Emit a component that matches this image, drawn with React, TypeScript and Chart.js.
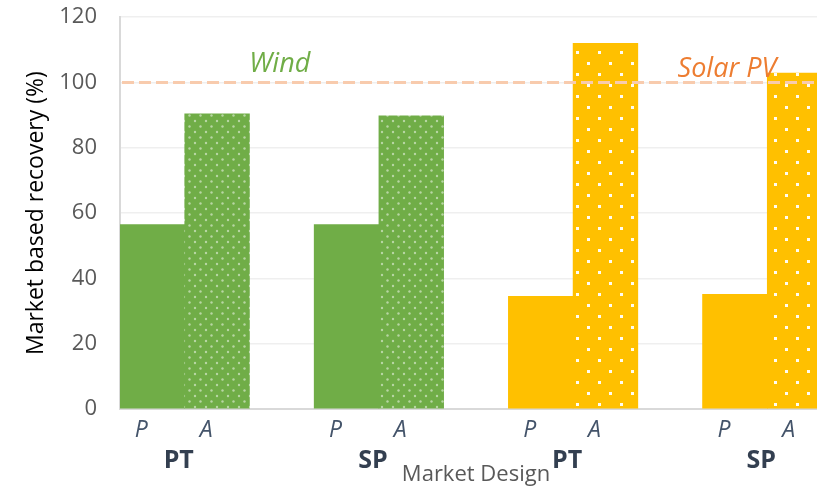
import React, { useEffect, useRef } from 'react';
import { Chart, registerables } from 'chart.js';

Chart.register(...registerables);

// ---- data ----
const groupLabels = ['PT', 'SP', 'PT', 'SP'];
const barLabels = ['P', 'A'];
const passiveValues = [56.5, 56.5, 34.5, 35.1];
const activeValues = [90.4, 89.8, 112.0, 102.9];
const groupTech = ['Wind', 'Wind', 'Solar PV', 'Solar PV'];
const referenceLevel = 100;
const yMin = 0;
const yMax = 120;
const yStep = 20;
const yTitle = 'Market based recovery (%)';
const xTitle = 'Market Design';

const techColors: Record<string, string> = { Wind: '#70AD47', 'Solar PV': '#FFC000' };
const techTextColors: Record<string, string> = { Wind: '#70AD47', 'Solar PV': '#ED7D31' };

const FONT = '"Open Sans", sans-serif';
const SHIFT = 19;

function makeDotPattern(base: string, kind: 'dots' | 'squares'): CanvasPattern | string {
  const c = document.createElement('canvas');
  if (kind === 'dots') {
    c.width = 11; c.height = 11;
    const g = c.getContext('2d')!;
    g.fillStyle = base; g.fillRect(0, 0, 11, 11);
    g.fillStyle = 'rgba(255,255,255,0.5)';
    g.beginPath(); g.arc(2.5, 2.5, 1.2, 0, Math.PI * 2); g.fill();
    g.beginPath(); g.arc(8, 8, 1.2, 0, Math.PI * 2); g.fill();
  } else {
    c.width = 22; c.height = 22;
    const g = c.getContext('2d')!;
    g.fillStyle = base; g.fillRect(0, 0, 22, 22);
    g.fillStyle = 'rgba(255,255,255,0.95)';
    g.fillRect(4, 4, 3, 3);
    g.fillRect(15, 15, 3, 3);
  }
  const ctx = document.createElement('canvas').getContext('2d')!;
  return ctx.createPattern(c, 'repeat') || base;
}

export default function App() {
  const ref = useRef<HTMLCanvasElement>(null);

  useEffect(() => {
    if (!ref.current) return;
    const labels: string[] = [];
    const values: (number | null)[] = [];
    const colors: (string | CanvasPattern)[] = [];
    groupLabels.forEach((_, i) => {
      const tech = groupTech[i];
      const base = techColors[tech];
      labels.push(barLabels[0]);
      values.push(passiveValues[i]);
      colors.push(base);
      labels.push(barLabels[1]);
      values.push(activeValues[i]);
      colors.push(makeDotPattern(base, tech === 'Wind' ? 'dots' : 'squares'));
      if (i < groupLabels.length - 1) {
        labels.push('');
        values.push(null);
        colors.push('rgba(0,0,0,0)');
      }
    });

    const overlay = {
      id: 'overlay',
      afterDatasetsDraw(chart: any) {
        const { ctx, chartArea, scales } = chart;
        const x = scales.x;
        const y = scales.y;
        const yRef = y.getPixelForValue(referenceLevel);
        ctx.save();
        ctx.strokeStyle = '#F8CBAD';
        ctx.lineWidth = 3;
        ctx.setLineDash([12, 5]);
        ctx.beginPath();
        ctx.moveTo(chartArea.left + 2, yRef);
        ctx.lineTo(chartArea.right, yRef);
        ctx.stroke();
        ctx.setLineDash([]);

        // technology labels
        ctx.font = `italic 27px ${FONT}`;
        ctx.textAlign = 'center';
        ctx.textBaseline = 'middle';
        ctx.fillStyle = techTextColors['Wind'];
        ctx.fillText('Wind', x.getPixelForValue(2) - 2, y.getPixelForValue(105.5));
        ctx.fillStyle = techTextColors['Solar PV'];
        ctx.fillText('Solar PV', x.getPixelForValue(9) - 8, y.getPixelForValue(104));

        // bar labels (P / A)
        ctx.font = `italic 23px ${FONT}`;
        ctx.fillStyle = '#44546A';
        labels.forEach((l, idx) => {
          if (!l) return;
          ctx.fillText(l, x.getPixelForValue(idx) - 11, chartArea.bottom + 21);
        });

        // group labels
        ctx.font = `bold 25px ${FONT}`;
        ctx.fillStyle = '#333F50';
        groupLabels.forEach((g, i) => {
          const cx = (x.getPixelForValue(3 * i) + x.getPixelForValue(3 * i + 1)) / 2 - 6;
          ctx.fillText(g, cx, chartArea.bottom + 52);
        });
        ctx.restore();
      },
    };

    const chart = new Chart(ref.current, {
      type: 'bar',
      data: {
        labels,
        datasets: [
          {
            data: values,
            backgroundColor: colors as any,
            borderWidth: 0,
            barPercentage: 1,
            categoryPercentage: 1,
          },
        ],
      },
      options: {
        animation: false,
        responsive: true,
        maintainAspectRatio: false,
        layout: { padding: 0 },
        plugins: { legend: { display: false }, tooltip: { enabled: false } },
        scales: {
          x: {
            grid: { display: false, drawTicks: false },
            border: { display: true, color: '#D9D9D9', width: 2 },
            ticks: { display: false },
            title: {
              display: true,
              text: xTitle,
              color: '#595959',
              font: { family: FONT, size: 22, lineHeight: 1.0 },
              padding: { top: 0, bottom: 0 },
            },
            afterFit(scale: any) {
              scale.height = 77;
            },
          },
          y: {
            min: yMin,
            max: yMax,
            ticks: {
              stepSize: yStep,
              padding: 23,
              color: '#595959',
              font: { family: FONT, size: 22 },
            },
            grid: { color: '#EFEFEF', lineWidth: 1.5, drawTicks: false },
            border: { display: true, color: '#D9D9D9', width: 2 },
            title: {
              display: true,
              text: yTitle,
              color: '#000000',
              font: { family: FONT, size: 23, lineHeight: 1.2 },
              padding: { top: 23, bottom: 0 },
            },
            afterFit(scale: any) {
              scale.width = 120;
            },
          },
        },
      },
      plugins: [overlay],
    });
    return () => chart.destroy();
  }, []);

  return (
    <div style={{ position: 'absolute', left: 0, top: 0, width: 817, height: 486, overflow: 'hidden', background: '#fff' }}>
      <div style={{ position: 'relative', width: 832, height: 486 + SHIFT, marginTop: -SHIFT }}>
        <canvas ref={ref} />
      </div>
    </div>
  );
}
